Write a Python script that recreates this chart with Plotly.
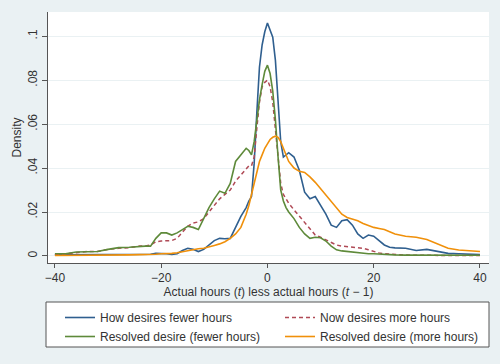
import plotly.graph_objects as go

# Shared x grid (hours change)
x_vals = [-40, -38, -36, -34, -32, -30, -28, -26, -24,
          -23, -22, -21, -20, -19, -18, -17, -16, -15, -14, -13, -12, -11, -10, -9, -8, -7, -6, -5, -4,
          -3.5, -3, -2.5, -2, -1.5, -1, -0.5, 0, 0.5, 1, 1.5, 2, 2.5, 3, 3.5,
          4, 5, 6, 7, 8, 9, 10, 11, 12, 13, 14, 15, 16, 17, 18, 19, 20, 21, 22, 23, 24,
          26, 28, 30, 32, 34, 36, 38, 40]

fewer_now = [0.0005, 0.0005, 0.0005, 0.0005, 0.0005, 0.0005, 0.0005, 0.0006, 0.0006,
             0.0006, 0.0008, 0.0012, 0.0012, 0.0010, 0.0007, 0.0010, 0.0025, 0.0035, 0.003, 0.002, 0.003, 0.005, 0.007, 0.008, 0.0078, 0.008, 0.013, 0.018, 0.022,
             0.025, 0.027, 0.042, 0.065, 0.086, 0.096, 0.102, 0.106, 0.103, 0.0995, 0.089, 0.072, 0.052, 0.045, 0.046,
             0.047, 0.045, 0.039, 0.029, 0.026, 0.027, 0.023, 0.019, 0.014, 0.013, 0.016, 0.0165, 0.014, 0.010, 0.008, 0.0095, 0.009, 0.007, 0.005, 0.004, 0.0037,
             0.0035, 0.0025, 0.003, 0.002, 0.0012, 0.001, 0.0008, 0.0006]

more_now = [0.0005, 0.001, 0.0015, 0.002, 0.002, 0.003, 0.0035, 0.0038, 0.0045,
            0.0045, 0.005, 0.0065, 0.0068, 0.0068, 0.007, 0.008, 0.011, 0.0135, 0.015, 0.0155, 0.017, 0.020, 0.023, 0.026, 0.028, 0.030, 0.034, 0.037, 0.040,
            0.041, 0.041, 0.045, 0.058, 0.070, 0.077, 0.079, 0.080, 0.077, 0.070, 0.058, 0.045, 0.033, 0.028, 0.026,
            0.024, 0.021, 0.018, 0.015, 0.012, 0.0095, 0.0085, 0.0074, 0.006, 0.005, 0.0045, 0.0042, 0.004, 0.0037, 0.0035, 0.0028, 0.002, 0.0014, 0.001, 0.0008, 0.0006,
            0.0004, 0.0003, 0.0003, 0.0002, 0.0002, 0.0002, 0.0002, 0.0002]

resolved_fewer = [0.001, 0.001, 0.0018, 0.002, 0.002, 0.003, 0.0038, 0.004, 0.0045,
                  0.0045, 0.0045, 0.008, 0.0105, 0.0105, 0.0095, 0.0105, 0.012, 0.0135, 0.013, 0.012, 0.017, 0.022, 0.026, 0.0295, 0.0285, 0.033, 0.043, 0.046, 0.049,
                  0.048, 0.046, 0.052, 0.062, 0.071, 0.078, 0.084, 0.0868, 0.083, 0.075, 0.062, 0.045, 0.030, 0.025, 0.022,
                  0.020, 0.017, 0.013, 0.010, 0.008, 0.0085, 0.0083, 0.0068, 0.0045, 0.0028, 0.0023, 0.002, 0.0018, 0.0015, 0.0012, 0.001, 0.001, 0.0008, 0.0008, 0.0006, 0.0005,
                  0.0004, 0.0004, 0.0003, 0.0003, 0.0003, 0.0003, 0.0003, 0.0003]

resolved_more = [0.0002, 0.0002, 0.0002, 0.0003, 0.0003, 0.0004, 0.0004, 0.0005, 0.0006,
                 0.0006, 0.0007, 0.0008, 0.001, 0.001, 0.0012, 0.0015, 0.002, 0.0025, 0.003, 0.0033, 0.0035, 0.004, 0.0048, 0.0055, 0.0065, 0.008, 0.010, 0.013, 0.019,
                 0.023, 0.028, 0.034, 0.039, 0.043, 0.046, 0.049, 0.051, 0.053, 0.054, 0.0545, 0.054, 0.052, 0.049, 0.046,
                 0.043, 0.040, 0.0385, 0.038, 0.036, 0.0335, 0.0305, 0.0275, 0.0245, 0.0215, 0.019, 0.0175, 0.0168, 0.016, 0.0148, 0.0138, 0.013, 0.0125, 0.012, 0.011, 0.010,
                 0.009, 0.0085, 0.0075, 0.0055, 0.0035, 0.0027, 0.0023, 0.002]

series_names = ["How desires fewer hours", "Now desires more hours",
                "Resolved desire (fewer hours)", "Resolved desire (more hours)"]

y_tickvals = [0, 0.02, 0.04, 0.06, 0.08, 0.1]
y_ticktext = ["0", ".02", ".04", ".06", ".08", ".1"]
x_tickvals = [-40, -20, 0, 20, 40]
x_ticktext = ["\u221240", "\u221220", "0", "20", "40"]

fig = go.Figure()
fig.add_trace(go.Scatter(x=x_vals, y=fewer_now, mode="lines", name=series_names[0],
                         legend="legend", line=dict(color="#2f5f8f", width=1.6)))
fig.add_trace(go.Scatter(x=x_vals, y=more_now, mode="lines", name=series_names[1],
                         legend="legend2", line=dict(color="#b04a56", width=1.5, dash="4px,3px")))
fig.add_trace(go.Scatter(x=x_vals, y=resolved_fewer, mode="lines", name=series_names[2],
                         legend="legend", line=dict(color="#5e8a3a", width=1.6)))
fig.add_trace(go.Scatter(x=x_vals, y=resolved_more, mode="lines", name=series_names[3],
                         legend="legend2", line=dict(color="#f0900a", width=1.6)))

plot_h = 364 - 12 - 101
plot_w = 500 - 48 - 11

font_family = "Liberation Sans, Arial, sans-serif"
legend_common = dict(orientation="v", xanchor="left", y=-40 / plot_h, yanchor="top",
                     bgcolor="rgba(0,0,0,0)", borderwidth=0, tracegroupgap=0,
                     font=dict(size=12, color="#333333"))
fig.update_layout(
    width=500, height=364,
    margin=dict(l=48, r=11, t=12, b=101, autoexpand=False),
    paper_bgcolor="#eaf1f3",
    plot_bgcolor="#ffffff",
    font=dict(family=font_family, size=12, color="#333333"),
    showlegend=True,
    legend=dict(x=12 / plot_w, **legend_common),
    legend2=dict(x=232 / plot_w, **legend_common),
    shapes=[dict(type="rect", xref="paper", yref="paper",
                 x0=-2 / plot_w, x1=1.0, y0=-(347 - 263) / plot_h, y1=-(302 - 263) / plot_h,
                 line=dict(color="#555555", width=1), fillcolor="#ffffff", layer="above")],
    xaxis=dict(range=[-41.3, 41.7], tickvals=x_tickvals, ticktext=x_ticktext,
               showgrid=False, zeroline=False, showline=True, linecolor="#555555", linewidth=1,
               ticks="outside", ticklen=4, tickcolor="#555555",
               tickfont=dict(size=12, color="#333333"),
               title=dict(text="Actual hours (<i>t</i>) less actual hours (<i>t</i> \u2212 1)",
                          font=dict(size=12, color="#333333"), standoff=0)),
    yaxis=dict(range=[-0.0032, 0.111], tickvals=y_tickvals, ticktext=y_ticktext,
               showgrid=True, gridcolor="#eaf1f3", gridwidth=1, zeroline=False,
               showline=True, linecolor="#555555", linewidth=1,
               ticks="outside", ticklen=5, tickcolor="#555555", tickangle=-90,
               tickfont=dict(size=12, color="#333333"),
               title=dict(text="Density", font=dict(size=12, color="#333333"), standoff=2)),
)

fig.write_html("out.html", config={"displayModeBar": False},
               post_script="document.body.style.margin='0';")
